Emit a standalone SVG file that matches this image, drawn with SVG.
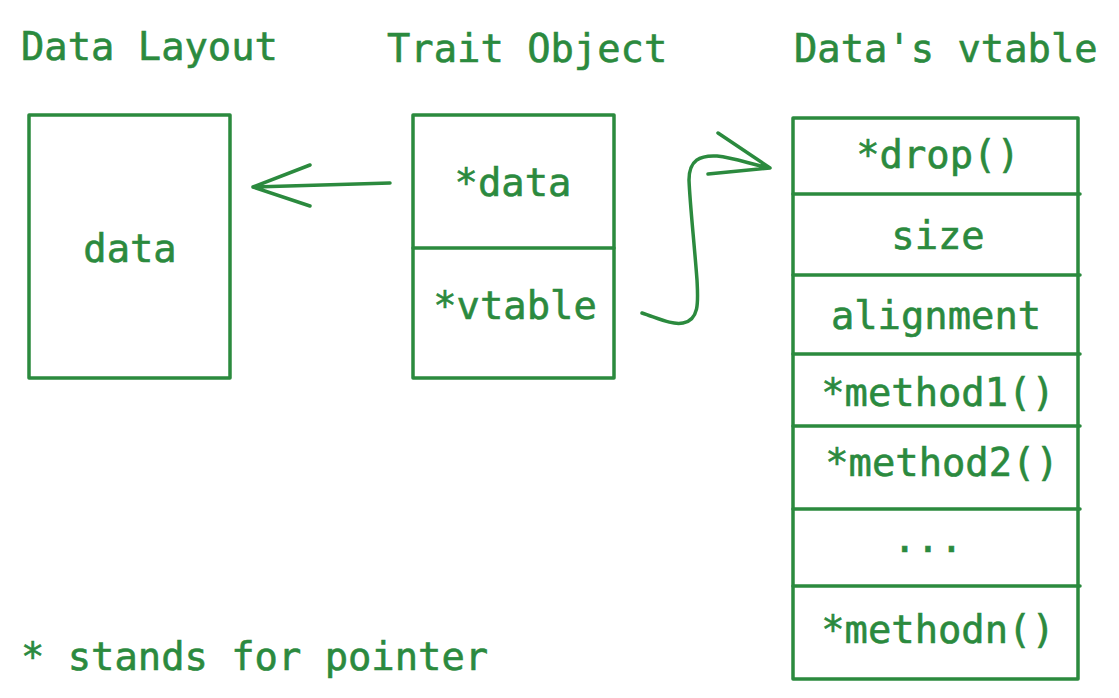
<svg xmlns="http://www.w3.org/2000/svg" width="1119" height="698" viewBox="0 0 1119 698">
<style>
.t{font-family:"DejaVu Sans Mono","Liberation Mono",monospace;font-size:38.8px;fill:#2b8a3e;stroke:#2b8a3e;stroke-width:0.6}
.c{text-anchor:middle}
.b{fill:none;stroke:#2b8a3e;stroke-width:3.5;stroke-linecap:round;stroke-linejoin:round}
</style>
<rect width="1119" height="698" fill="#fff"/>
<g id="titles">
<text class="t" x="21" y="60">Data Layout</text>
<text class="t" x="387" y="62">Trait Object</text>
<text class="t" x="794" y="62">Data's vtable</text>
</g>
<g id="data-layout">
<rect class="b" x="29" y="115" width="201" height="263"/>
<text class="t c" x="130" y="262">data</text>
</g>
<g id="trait-object">
<rect class="b" x="413" y="115" width="201" height="263"/>
<line class="b" x1="413" y1="248" x2="614" y2="248"/>
<text class="t c" x="513" y="196">*data</text>
<text class="t c" x="515" y="319">*vtable</text>
</g>
<g id="vtable">
<rect class="b" x="793" y="118" width="285" height="561"/>
<path class="b" d="M793 194H1080M793 275H1080M793 354H1080M793 426H1080M793 509H1080M793 586H1080"/>
<text class="t c" x="938" y="168">*drop()</text>
<text class="t c" x="938" y="249">size</text>
<text class="t c" x="936" y="329">alignment</text>
<text class="t c" x="938" y="406">*method1()</text>
<text class="t c" x="942" y="476">*method2()</text>
<text class="t c" x="928" y="552">...</text>
<text class="t c" x="938" y="643">*methodn()</text>
</g>
<g id="note">
<text class="t" x="21" y="670">* stands for pointer</text>
</g>
<g id="connectors">
<path class="b" d="M390 183L253 187M310 165L253 187L310 206"/>
<path class="b" d="M642 313C660 319 672 325 683 323C700 320 698 300 697 280C694 240 690 205 689 180C689 160 700 155 717 156C735 158 750 164 770 168M718 133L770 168L708 174"/>
</g>
</svg>
